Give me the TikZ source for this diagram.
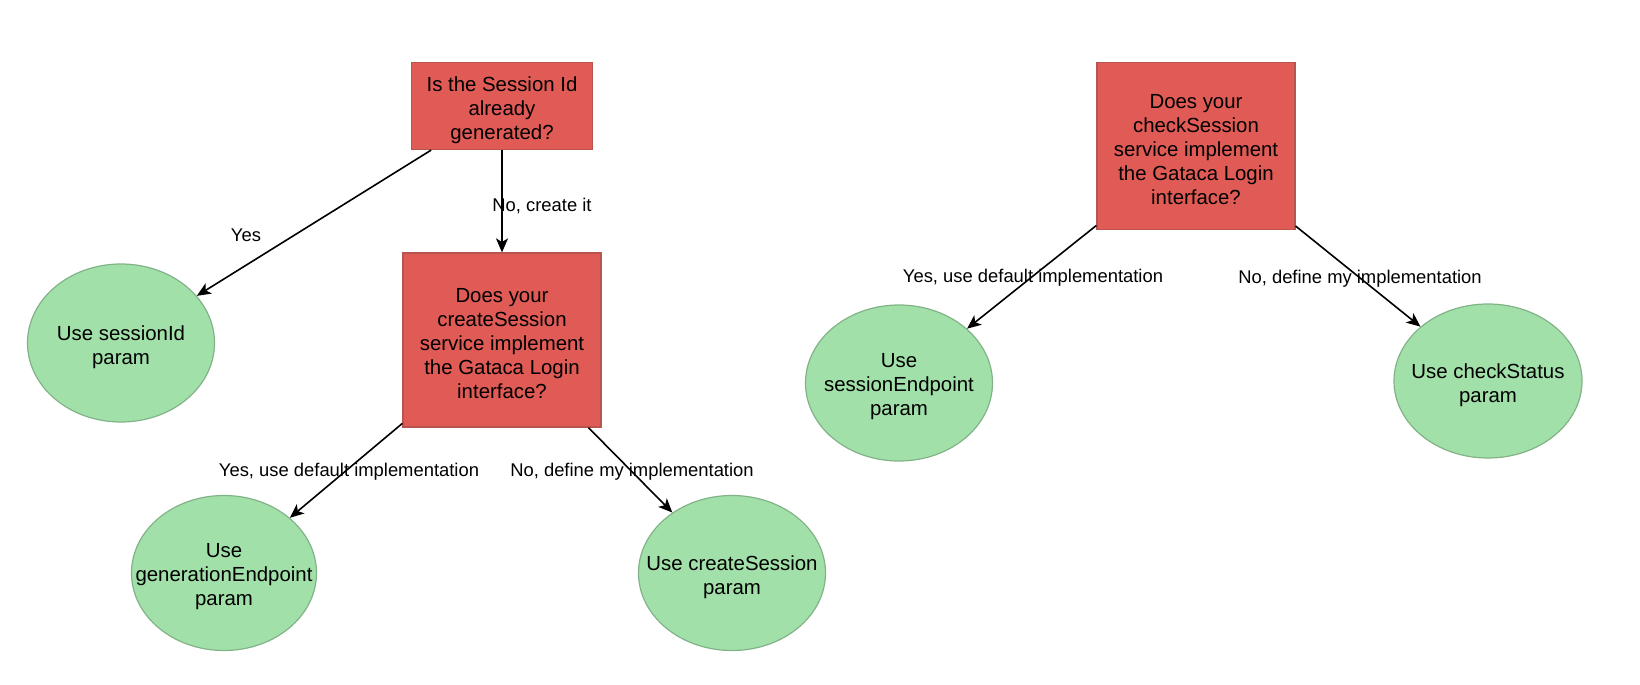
\documentclass[tikz,border=0pt]{standalone}
\usepackage{fontspec}
\setmainfont{Liberation Sans}
\usetikzlibrary{arrows.meta,shapes.geometric}
\definecolor{askfill}{RGB}{224,91,85}
\definecolor{askline}{RGB}{184,84,80}
\definecolor{usefill}{RGB}{162,224,169}
\definecolor{useline}{RGB}{130,179,136}
\begin{document}
\begin{tikzpicture}[x=0.5pt,y=-0.5pt,
    ask/.style={draw=askline,fill=askfill,line width=0.6pt,inner sep=0pt},
    use/.style={ellipse,draw=useline,fill=usefill,line width=0.6pt,inner sep=0pt},
    txt/.style={align=center,inner sep=0pt,yshift=-2pt,font=\fontsize{10.2}{12}\selectfont},
    lbl/.style={font=\fontsize{9.2}{11}\selectfont,inner sep=1pt}]
  \useasboundingbox (0,0) rectangle (1640,685);
  \draw
    (502,106) node[ask,minimum width=90.5pt,minimum height=43.5pt,
      label={[txt]center:Is the Session Id\\already\\generated?}] (idgen){}
    (502,340) node[ask,minimum width=99pt,minimum height=87pt,
      label={[txt]center:Does your\\createSession\\service implement\\the Gataca Login\\interface?}] (create){}
    (1196,146) node[ask,minimum width=99pt,minimum height=83.5pt,
      label={[txt]center:Does your\\checkSession\\service implement\\the Gataca Login\\interface?}] (check){}
    (121,343) node[use,minimum width=93.5pt,minimum height=79pt,
      label={[txt]center:Use sessionId\\param}] (sid){}
    (224,573) node[use,minimum width=92.5pt,minimum height=77.5pt,
      label={[txt]center:Use\\generationEndpoint\\param}] (genep){}
    (732,573) node[use,minimum width=93.5pt,minimum height=77.5pt,
      label={[txt]center:Use createSession\\param}] (csparam){}
    (899,383) node[use,minimum width=93.5pt,minimum height=78pt,
      label={[txt]center:Use\\sessionEndpoint\\param}] (sesep){}
    (1488,381) node[use,minimum width=94pt,minimum height=77pt,
      label={[txt]center:Use checkStatus\\param}] (cstat){};
  \draw
    (246,235) node[lbl] (yes){Yes}
    (542,206) node[lbl] (nocreate){No, create it}
    (349,472) node[lbl] (yesleft){Yes, use default implementation}
    (632,472) node[lbl] (noleft){No, define my implementation}
    (1033,278) node[lbl] (yesright){Yes, use default implementation}
    (1360,279) node[lbl] (noright){No, define my implementation};
  \begin{scope}[-{Stealth[length=7pt,width=6pt,inset=1.8pt]},line width=0.8pt]
    \draw (idgen) to (sid);
    \draw (idgen) to (create);
    \draw (create) to (genep);
    \draw (create) to (csparam);
    \draw (check) to (sesep);
    \draw (check) to (cstat);
  \end{scope}
\end{tikzpicture}
\end{document}
